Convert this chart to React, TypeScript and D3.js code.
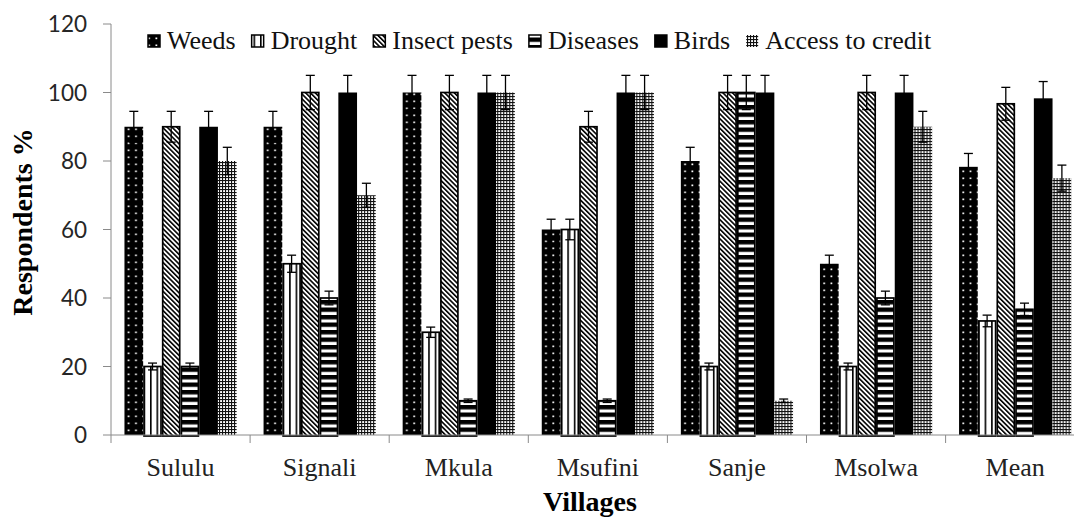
import React from "react";
import * as d3 from "d3";

const villages = ["Sululu", "Signali", "Mkula", "Msufini", "Sanje", "Msolwa", "Mean"];
const seriesNames = ["Weeds", "Drought", "Insect pests", "Diseases", "Birds", "Access to credit"];
const weeds = [90, 90, 100, 60, 80, 50, 78.3];
const drought = [20, 50, 30, 60, 20, 20, 33.3];
const insectPests = [90, 100, 100, 90, 100, 100, 96.7];
const diseases = [20, 40, 10, 10, 100, 40, 36.7];
const birds = [90, 100, 100, 100, 100, 100, 98.3];
const accessToCredit = [80, 70, 100, 100, 10, 90, 75];
const weedsErr = [4.5, 4.5, 5, 3, 4, 2.5, 3.9];
const droughtErr = [1, 2.5, 1.5, 3, 1, 1, 1.7];
const insectPestsErr = [4.5, 5, 5, 4.5, 5, 5, 4.8];
const diseasesErr = [1, 2, 0.5, 0.5, 5, 2, 1.8];
const birdsErr = [4.5, 5, 5, 5, 5, 5, 4.9];
const accessToCreditErr = [4, 3.5, 5, 5, 0.5, 4.5, 3.8];
const yTicks = [0, 20, 40, 60, 80, 100, 120];

const seriesValues = [weeds, drought, insectPests, diseases, birds, accessToCredit];
const seriesErrors = [weedsErr, droughtErr, insectPestsErr, diseasesErr, birdsErr, accessToCreditErr];
const patternIds = ["pWeeds", "pDrought", "pInsect", "pDiseases", "pBirds", "pAccess"];
const stroked = [false, true, true, true, false, false];

const W = 1074;
const H = 518;
const left = 111;
const top = 24;
const bottom = 435;
const step = 139.1;

function measure(text: string, font: string): number {
  const c = document.createElement("canvas");
  const ctx = c.getContext("2d");
  if (!ctx) return text.length * 12;
  ctx.font = font;
  return ctx.measureText(text).width;
}

export default function App() {
  const x0 = d3.scaleBand<string>().domain(villages).range([left, left + step * villages.length]).padding(0);
  const x1 = d3
    .scaleBand<string>()
    .domain(seriesNames)
    .range([0, x0.bandwidth()])
    .paddingInner(0)
    .paddingOuter(0.72);
  const y = d3.scaleLinear().domain([0, 120]).range([bottom, top]);

  const axisColor = "#8a8a8a";
  const serif = "'Liberation Serif', 'Times New Roman', serif";
  const legendFont = `26px 'Liberation Serif'`;

  // legend layout
  let lx = 148;
  const legendItems = seriesNames.map((name, i) => {
    const iconX = lx;
    const textX = iconX + 19;
    const w = measure(name, legendFont);
    lx = textX + w + 16;
    return { name, i, iconX, textX };
  });

  const capW = 9;

  return (
    <svg
      width={W}
      height={H}
      style={{ position: "absolute", left: 0, top: 0, background: "#fff" }}
      xmlns="http://www.w3.org/2000/svg"
    >
      <defs>
        <pattern id="pWeeds" patternUnits="userSpaceOnUse" width={7.3} height={7}>
          <rect width={7.3} height={7} fill="#000" />
          <rect x={2.2} y={2.5} width={1.7} height={1.7} fill="#fff" />
        </pattern>
        <pattern id="pDrought" patternUnits="userSpaceOnUse" width={6.5} height={4}>
          <rect width={6.5} height={4} fill="#fff" />
          <rect x={0} y={0} width={1.6} height={4} fill="#000" />
        </pattern>
        <pattern id="pInsect" patternUnits="userSpaceOnUse" width={3.4} height={4} patternTransform="rotate(-45)">
          <rect width={3.4} height={4} fill="#fff" />
          <rect x={0} y={0} width={1.6} height={4} fill="#000" />
        </pattern>
        <pattern id="pDiseases" patternUnits="userSpaceOnUse" width={4} height={7.5}>
          <rect width={4} height={7.5} fill="#fff" />
          <rect x={0} y={0} width={4} height={4.4} fill="#000" />
        </pattern>
        <pattern id="pBirds" patternUnits="userSpaceOnUse" width={4} height={4}>
          <rect width={4} height={4} fill="#000" />
        </pattern>
        <pattern id="pAccess" patternUnits="userSpaceOnUse" width={3} height={3}>
          <rect width={3} height={3} fill="#fff" />
          <rect x={0} y={0} width={3} height={1.1} fill="#111" />
          <rect x={0} y={0} width={1.1} height={3} fill="#111" />
        </pattern>
      </defs>

      {/* Y axis */}
      <line x1={left} x2={left} y1={y(120)} y2={bottom + 8} stroke={axisColor} strokeWidth={1} />
      {yTicks.map((t) => (
        <g key={t}>
          <line x1={left - 8} x2={left} y1={y(t)} y2={y(t)} stroke={axisColor} strokeWidth={1} />
          <text
            x={left - 24}
            y={y(t)}
            dy="0.36em"
            textAnchor="end"
            fontFamily="Lato, 'Open Sans', sans-serif"
            fontSize={22.5}
            fill="#262626"
          >
            {t}
          </text>
        </g>
      ))}

      {/* Bars */}
      {villages.map((v, vi) => (
        <g key={v} transform={`translate(${x0(v)},0)`}>
          {seriesNames.map((s, si) => {
            const val = seriesValues[si][vi];
            const bx = x1(s) as number;
            const bw = x1.bandwidth();
            const sw = stroked[si] ? 1.7 : 0;
            return (
              <rect
                key={s}
                x={bx + sw / 2}
                y={y(val)}
                width={bw - sw}
                height={bottom - y(val) + (stroked[si] ? 1 : 0)}
                fill={`url(#${patternIds[si]})`}
                stroke={stroked[si] ? "#000" : "none"}
                strokeWidth={sw}
              />
            );
          })}
        </g>
      ))}

      {/* X axis */}
      <line x1={left} x2={W} y1={bottom} y2={bottom} stroke={axisColor} strokeWidth={1} />
      {villages.map((v) => (
        <line
          key={"t" + v}
          x1={(x0(v) as number) + step}
          x2={(x0(v) as number) + step}
          y1={bottom}
          y2={bottom + 8}
          stroke={axisColor}
          strokeWidth={1}
        />
      ))}

      {/* Error bars */}
      {villages.map((v, vi) => (
        <g key={"e" + v} transform={`translate(${x0(v)},0)`}>
          {seriesNames.map((s, si) => {
            const val = seriesValues[si][vi];
            const err = seriesErrors[si][vi];
            const cx = (x1(s) as number) + x1.bandwidth() / 2;
            return (
              <g key={s} stroke="#000" strokeWidth={1.3}>
                <line x1={cx} x2={cx} y1={y(val + err)} y2={y(val - err)} />
                <line x1={cx - capW / 2} x2={cx + capW / 2} y1={y(val + err)} y2={y(val + err)} />
                <line x1={cx - capW / 2} x2={cx + capW / 2} y1={y(val - err)} y2={y(val - err)} />
              </g>
            );
          })}
        </g>
      ))}

      {/* X labels */}
      {villages.map((v) => (
        <text
          key={"l" + v}
          x={(x0(v) as number) + x0.bandwidth() / 2}
          y={476}
          textAnchor="middle"
          fontFamily={serif}
          fontSize={26}
          fill="#222"
        >
          {v}
        </text>
      ))}

      {/* Axis titles */}
      <text x={590} y={511} textAnchor="middle" fontFamily={serif} fontSize={28} fontWeight="bold" fill="#000">
        Villages
      </text>
      <text
        transform={`translate(32,222) rotate(-90)`}
        textAnchor="middle"
        fontFamily={serif}
        fontSize={28}
        fontWeight="bold"
        fill="#000"
      >
        Respondents %
      </text>

      {/* Legend */}
      {legendItems.map((it) => (
        <g key={"lg" + it.name}>
          <rect
            x={it.iconX}
            y={35}
            width={12}
            height={12}
            fill={`url(#${patternIds[it.i]})`}
            stroke={it.i === 5 ? "none" : "#000"}
            strokeWidth={1.5}
          />
          <text x={it.textX} y={49} fontFamily={serif} fontSize={26} fill="#111">
            {it.name}
          </text>
        </g>
      ))}
    </svg>
  );
}
